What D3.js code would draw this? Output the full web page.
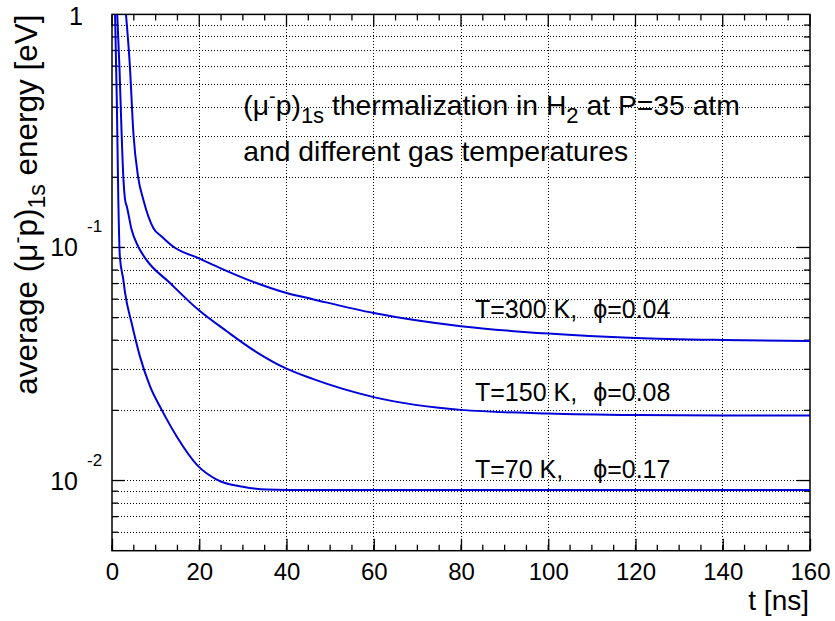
<!DOCTYPE html>
<html>
<head>
<meta charset="utf-8">
<script src="https://cdn.jsdelivr.net/npm/d3@7"></script>
<style>
  body { margin: 0; background: #fff; }
  text { font-family: "Liberation Sans", Arial, Helvetica, sans-serif; fill: #000; }
</style>
</head>
<body>
<div class="chart"></div>
<script>
// x axis: time [ns]
var tTicks = [0, 20, 40, 60, 80, 100, 120, 140, 160];
// y axis: decades shown as labels
var yDecades = [0.01, 0.1, 1];
var yLabelExp = ["-2", "-1", ""];

// T = 300 K curve
var t300 = [3.2, 4.1, 4.9, 6.0, 7.2, 9.5, 11.5, 14, 19.8, 24.8, 32.4, 40, 46, 60, 80, 100, 120, 140, 160];
var e300 = [1.0, 0.60, 0.31, 0.20, 0.16, 0.121, 0.111, 0.101, 0.090, 0.0816, 0.0712, 0.0638, 0.0600, 0.0523, 0.0459, 0.0427, 0.0409, 0.0401, 0.0397];
// T = 150 K curve
var t150 = [1.2, 1.7, 2.2, 2.6, 3.0, 3.4, 4.5, 6.0, 7.6, 13.3, 19.8, 26.3, 33.2, 40, 46, 60, 80, 100, 120, 140, 160];
var e150 = [1.0, 0.60, 0.31, 0.20, 0.16, 0.15, 0.119, 0.101, 0.090, 0.0704, 0.054, 0.0437, 0.0355, 0.0302, 0.0273, 0.0228, 0.0201, 0.0194, 0.0191, 0.0190, 0.0190];
// T = 70 K curve
var t70 = [0.7, 1.1, 1.45, 1.8, 2.6, 3.0, 4.5, 6.4, 8.7, 11.4, 14.8, 19.8, 24, 30, 35.5, 45, 60, 80, 100, 120, 140, 160];
var e70 = [1.0, 0.43, 0.16, 0.0915, 0.0727, 0.0638, 0.0474, 0.0341, 0.0254, 0.0201, 0.0155, 0.0115, 0.0101, 0.0094, 0.00915, 0.0091, 0.0091, 0.0091, 0.0091, 0.0091, 0.0091, 0.0091];

// curve annotations
var tempLabels = ["T=300 K,", "T=150 K,", "T=70 K,"];
var phiLabels = ["\u03D5=0.04", "\u03D5=0.08", "\u03D5=0.17"];
var labelE = [0.0498, 0.0219, 0.0103];

var cfg = {
  w: 835,
  h: 621,
  margin: { top: 14.4, right: 25, bottom: 70.3, left: 112 },
  color: "#0000d8",
  lineWidth: 2
};
var width = cfg.w - cfg.margin.left - cfg.margin.right,
  height = cfg.h - cfg.margin.top - cfg.margin.bottom;

var x = d3.scaleLinear().domain([0, 160]).range([0, width]);
var y = d3.scaleLog().domain([0.005, 1]).range([height, 0]);

var svg = d3.select(".chart").append("svg")
  .attr("width", cfg.w)
  .attr("height", cfg.h);
var g = svg.append("g")
  .attr("transform", "translate(" + cfg.margin.left + "," + cfg.margin.top + ")");

g.append("defs").append("clipPath").attr("id", "plotClip")
  .append("rect").attr("width", width).attr("height", height);

// minor y values: 1..9 in each decade inside the range
var yMinor = [];
[0.001, 0.01, 0.1].forEach(function (d) {
  for (var k = 1; k <= 9; k++) {
    var v = +(d * k).toPrecision(3);
    if (v > 0.005 && v < 1) yMinor.push(v);
  }
});
var xMinor = d3.range(0, 161, 5);

/////////////////////// grid ///////////////////////
var grid = g.append("g").attr("class", "grid")
  .style("stroke", "#000")
  .style("stroke-width", 1)
  .style("stroke-dasharray", "1,2")
  .style("shape-rendering", "crispEdges");
grid.selectAll(".hgrid")
  .data(yMinor)
  .enter().append("line")
  .attr("x1", 0).attr("x2", width)
  .attr("y1", function (d) { return y(d); })
  .attr("y2", function (d) { return y(d); });
grid.selectAll(".vgrid")
  .data(tTicks.slice(1, -1))
  .enter().append("line")
  .attr("y1", 0).attr("y2", height)
  .attr("x1", function (d) { return x(d); })
  .attr("x2", function (d) { return x(d); });

/////////////////////// axes ///////////////////////
// bottom axis with labels
var xAxis = g.append("g")
  .attr("transform", "translate(0," + height + ")")
  .call(d3.axisBottom(x).tickValues(tTicks).tickSizeInner(-12).tickSizeOuter(0).tickPadding(12));
xAxis.select(".domain").remove();
xAxis.selectAll("text").style("font-size", "24px").attr("font-family", null);
xAxis.selectAll("line").style("stroke-width", 1.3);
// minor x ticks bottom and top
g.selectAll(".xminor")
  .data(xMinor)
  .enter().append("line")
  .attr("x1", function (d) { return x(d); })
  .attr("x2", function (d) { return x(d); })
  .attr("y1", height).attr("y2", height - 6)
  .style("stroke", "#000").style("stroke-width", 1.3);
g.selectAll(".xminorTop")
  .data(xMinor)
  .enter().append("line")
  .attr("x1", function (d) { return x(d); })
  .attr("x2", function (d) { return x(d); })
  .attr("y1", 0).attr("y2", function (d) { return d % 20 === 0 ? 12 : 6; })
  .style("stroke", "#000").style("stroke-width", 1.3);

// left / right y ticks
[0, width].forEach(function (x0, side) {
  var dir = side === 0 ? 1 : -1;
  g.selectAll(".ymin" + side)
    .data(yMinor)
    .enter().append("line")
    .attr("x1", x0)
    .attr("x2", function (d) { return x0 + dir * (yDecades.indexOf(d) >= 0 ? 13 : 6); })
    .attr("y1", function (d) { return y(d); })
    .attr("y2", function (d) { return y(d); })
    .style("stroke", "#000").style("stroke-width", 1.3);
});

// y labels: 1, 10^-1, 10^-2
var yLab = g.selectAll(".yLabel")
  .data(yDecades)
  .enter().append("g")
  .attr("class", "yLabel")
  .attr("transform", function (d) { return "translate(0," + y(d) + ")"; });
yLab.append("text")
  .attr("text-anchor", "end")
  .attr("x", function (d, i) { return yLabelExp[i] === "" ? -29 : -34; })
  .attr("y", function (d, i) { return yLabelExp[i] === "" ? 10.6 : 9; })
  .style("font-size", "25px")
  .text(function (d, i) { return yLabelExp[i] === "" ? "1" : "10"; });
yLab.append("text")
  .attr("x", -25)
  .attr("y", -15)
  .style("font-size", "17px")
  .text(function (d, i) { return yLabelExp[i]; });

// frame
g.append("rect")
  .attr("width", width).attr("height", height)
  .style("fill", "none").style("stroke", "#000").style("stroke-width", 1.5);

/////////////////////// curves ///////////////////////
var series = [
  t300.map(function (t, i) { return { t: t, e: e300[i] }; }),
  t150.map(function (t, i) { return { t: t, e: e150[i] }; }),
  t70.map(function (t, i) { return { t: t, e: e70[i] }; })
];
var line = d3.line()
  .curve(d3.curveMonotoneX)
  .x(function (d) { return x(d.t); })
  .y(function (d) { return y(d.e); });
g.append("g").attr("clip-path", "url(#plotClip)")
  .selectAll(".curve")
  .data(series)
  .enter().append("path")
  .attr("class", "curve")
  .attr("d", line)
  .style("fill", "none")
  .style("stroke", cfg.color)
  .style("stroke-width", cfg.lineWidth)
  .style("stroke-linejoin", "round");

// curve labels
g.selectAll(".tempLabel")
  .data(tempLabels)
  .enter().append("text")
  .attr("x", x(83.2))
  .attr("y", function (d, i) { return y(labelE[i]); })
  .style("font-size", "25px")
  .text(function (d) { return d; });
g.selectAll(".phiLabel")
  .data(phiLabels)
  .enter().append("text")
  .attr("x", x(110.3))
  .attr("y", function (d, i) { return y(labelE[i]); })
  .style("font-size", "25px")
  .text(function (d) { return d; });

// title inside the plot
var title1 = g.append("text")
  .attr("x", x(30.1)).attr("y", y(0.37))
  .style("font-size", "28.3px");
title1.append("tspan").text("(\u03BC");
title1.append("tspan").attr("dy", -12).style("font-size", "20px").text("-");
title1.append("tspan").attr("dy", 12).text("p)");
title1.append("tspan").attr("dy", 8).style("font-size", "22px").text("1s");
title1.append("tspan").attr("dy", -8).text(" thermalization in H");
title1.append("tspan").attr("dy", 8).style("font-size", "22px").text("2");
title1.append("tspan").attr("dy", -8).text(" at P=35 atm");
g.append("text")
  .attr("x", x(30.1)).attr("y", y(0.235))
  .style("font-size", "28.3px")
  .text("and different gas temperatures");

// axis titles
svg.append("text")
  .attr("x", 809).attr("y", 610)
  .attr("text-anchor", "end")
  .style("font-size", "28px")
  .text("t [ns]");
var yTitle = svg.append("text")
  .attr("transform", "translate(37," + cfg.margin.top + ") rotate(-90)")
  .attr("text-anchor", "end")
  .style("font-size", "31.5px");
yTitle.append("tspan").text("average (\u03BC");
yTitle.append("tspan").attr("dy", -13).style("font-size", "21px").text("-");
yTitle.append("tspan").attr("dy", 13).text("p)");
yTitle.append("tspan").attr("dy", 8).style("font-size", "23px").text("1s");
yTitle.append("tspan").attr("dy", -8).text(" energy [eV]");
</script>
</body>
</html>
